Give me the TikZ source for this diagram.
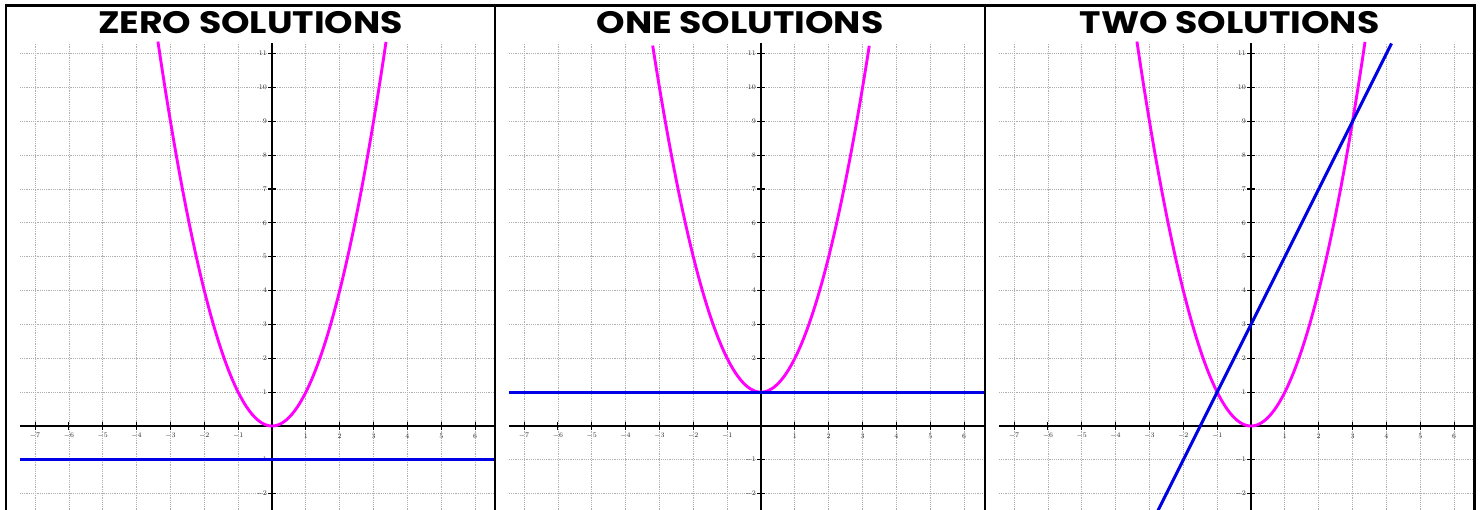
\documentclass[tikz,border=0pt]{standalone}
\usepackage{fontspec}
\newfontfamily\titlefont{Poppins}
\definecolor{plotblue}{RGB}{0,0,230}
\definecolor{plotmag}{RGB}{255,0,255}
\definecolor{gridgray}{RGB}{175,175,175}
\tikzset{
  gridline/.style={gridgray, line width=0.8pt, dash pattern=on 1.2pt off 1pt},
  axisline/.style={black, line width=1.2pt},
  tickline/.style={black, line width=1.1pt},
  ticklabel/.style={font=\fontsize{7}{7}\selectfont, inner sep=0pt, text=black!85},
  parab/.style={plotmag, line width=2.9pt},
  bline/.style={plotblue, line width=3pt},
  border/.style={black, line width=2.2pt},
  titlestyle/.style={font=\titlefont\bfseries\fontsize{31}{31}\selectfont, inner sep=0pt, anchor=center, xscale=1.17}
}
\newcommand\mypanel[1]{%
  \begin{scope}[shift={(#1,84)}, x=33.85pt, y=33.85pt]
    \draw[gridline] (-7.45,-2.6) grid[step=1] (6.62,11.28);
    \draw[axisline] (-7.45,0) -- (6.62,0);
    \draw[axisline] (0,-2.6) -- (0,11.3);
    \foreach \t in {-7,...,6} {\draw[tickline] (\t,0) ++(0,-4pt) -- ++(0,8pt);}
    \foreach \t in {-2,...,11} {\draw[tickline] (0,\t) ++(-4pt,0) -- ++(8pt,0);}
    \foreach \t in {-7,...,-1,1,2,...,6} {\node[ticklabel] (xl\t) at ([yshift=-10pt]\t,0) {$\t$};}
    \foreach \t in {-2,-1,1,2,...,11} {\node[ticklabel, anchor=east] (yl\t) at ([xshift=-5pt]0,\t) {$\t$};}
  \end{scope}}
\begin{document}
\begin{tikzpicture}[x=1pt, y=1pt]
  \useasboundingbox (0,0) rectangle (1482,510);
  \fill[white] (0,0) rectangle (1482,510);
  % panel 1
  \mypanel{272}
  \begin{scope}[shift={(272,84)}, x=33.85pt, y=33.85pt]
    \draw[parab] plot[domain=-3.37:3.37, samples=120] (\x,{\x*\x});
    \draw[bline] (-7.45,-1) -- (6.6,-1);
  \end{scope}
  % panel 2
  \mypanel{761}
  \begin{scope}[shift={(761,84)}, x=33.85pt, y=33.85pt]
    \draw[parab] plot[domain=-3.2:3.2, samples=120] (\x,{\x*\x+1});
    \draw[bline] (-7.45,1) -- (6.62,1);
  \end{scope}
  % panel 3
  \mypanel{1251}
  \begin{scope}[shift={(1251,84)}, x=33.85pt, y=33.85pt]
    \draw[parab] plot[domain=-3.37:3.37, samples=120] (\x,{\x*\x});
    \draw[bline] plot[domain=-2.8:4.15, samples=2] (\x,{2*\x+3});
  \end{scope}
  % borders
  \draw[border] (6,0) -- (6,504.5) -- (1474.5,504.5) -- (1474.5,0);
  \draw[border] (495,0) -- (495,504.5);
  \draw[border] (985,0) -- (985,504.5);
  % titles
  \node[titlestyle] (t1) at (250.5,487.5) {ZERO SOLUTIONS};
  \node[titlestyle] (t2) at (740,487.5) {ONE SOLUTIONS};
  \node[titlestyle] (t3) at (1229.7,487.5) {TWO SOLUTIONS};
\end{tikzpicture}
\end{document}
